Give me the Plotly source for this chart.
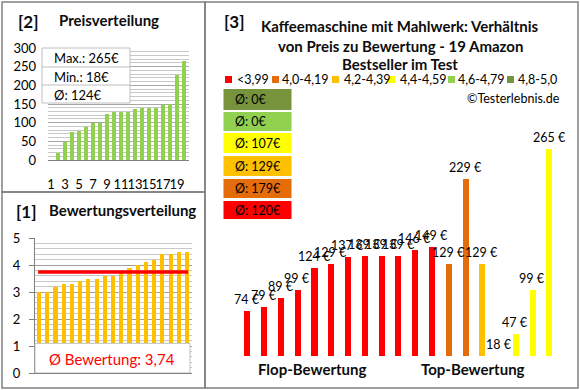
import plotly.graph_objects as go

# ---------------- data ----------------
price_sorted = [18, 47, 74, 79, 89, 99, 99, 124, 129, 129, 129, 137, 139, 139, 139, 146, 149, 229, 265]
ratings_sorted = [3.0, 3.0, 3.2, 3.3, 3.3, 3.4, 3.5, 3.5, 3.6, 3.6, 3.7, 3.9, 4.0, 4.1, 4.2, 4.4, 4.4, 4.5, 4.5]
price_tick_labels = ["1", "3", "5", "7", "9", "11", "13", "15", "17", "19"]

panel3_prices = [74, 79, 89, 99, 124, 129, 137, 139, 139, 139, 146, 149, 129, 229, 129, 18, 47, 99, 265]
panel3_groups = [0, 0, 0, 0, 0, 0, 0, 0, 0, 0, 0, 0, 1, 1, 2, 3, 3, 3, 3]
group_labels = ["<3,99", "4,0-4,19", "4,2-4,39", "4,4-4,59", "4,6-4,79", "4,8-5,0"]
group_colors = ["#FF0000", "#E46C0A", "#FFC000", "#FFFF00", "#92D050", "#77933C"]

title_lines = ["Kaffeemaschine mit Mahlwerk: Verhältnis",
               "von Preis zu Bewertung - 19 Amazon",
               "Bestseller im Test"]

# ---------------- helpers ----------------
W, H = 580, 390
FONT = "Lato"


def fx(px):
    return px / W


def fy(py):
    return 1 - py / H


fig = go.Figure()

# Panel [2] price distribution
n = len(price_sorted)
fig.add_trace(go.Bar(x=list(range(1, n + 1)), y=price_sorted, marker_color="#92D050",
                     marker_line_width=0, width=0.5, xaxis="x", yaxis="y"))
# Panel [1] rating distribution
fig.add_trace(go.Bar(x=list(range(1, n + 1)), y=ratings_sorted, marker_color="#FFC000",
                     marker_line_width=0, width=0.5, xaxis="x2", yaxis="y2"))
# Panel [3] price vs rating
x3 = list(range(1, len(panel3_prices) + 1))
fig.add_trace(go.Bar(x=x3, y=panel3_prices,
                     marker_color=[group_colors[g] for g in panel3_groups],
                     marker_line_width=0, width=0.36, xaxis="x3", yaxis="y3"))

Y3MIN, Y3MAX = 21.3, 300

tickfont = dict(family=FONT, size=13, color="#000000")

fig.update_layout(
    template="none",
    font=dict(family=FONT, size=12, color="#000000"),
    width=W, height=H, autosize=False,
    margin=dict(l=0, r=0, t=0, b=0, pad=0, autoexpand=False),
    paper_bgcolor="white", plot_bgcolor="white", showlegend=False,
    bargap=0,
    xaxis=dict(domain=[fx(48), fx(189)], range=[-0.43, 19.71], automargin=False, anchor="y",
               tickmode="array", tickvals=[int(t) - 1 for t in price_tick_labels],
               ticktext=price_tick_labels, tickangle=0,
               ticks="", ticklabelstandoff=12,
               tickfont=tickfont, showgrid=False, zeroline=False,
               showline=True, linecolor="#808080", linewidth=1),
    yaxis=dict(domain=[fy(160), fy(48)], range=[0, 300], dtick=50, automargin=False, anchor="x",
               side="left", ticklabelposition="outside",
               ticks="", ticklabelstandoff=11,
               tickfont=tickfont, showgrid=True, gridcolor="#A6A6A6", gridwidth=1,
               minor=dict(dtick=10, showgrid=True, gridcolor="#C8C8C8", gridwidth=1),
               zeroline=False, showline=False),
    xaxis2=dict(domain=[fx(35), fx(192)], range=[0.51, 19.6], showticklabels=False,
                automargin=False, ticks="", anchor="y2",
                showgrid=False, zeroline=False, showline=True, linecolor="#808080"),
    yaxis2=dict(domain=[fy(373), fy(238)], range=[0, 5], dtick=1, automargin=False, anchor="x2",
                side="left", ticklabelposition="outside",
                ticks="outside", ticklen=5, tickcolor="#808080", ticklabelstandoff=6,
                tickfont=tickfont, showgrid=True, gridcolor="#A0A0A0", gridwidth=1,
                minor=dict(dtick=0.2, showgrid=True, gridcolor="#C8C8C8", gridwidth=1),
                zeroline=False, showline=True, linecolor="#808080"),
    xaxis3=dict(domain=[fx(238.6), fx(557.4)], range=[0.5, 19.5], visible=False,
                automargin=False, anchor="y3"),
    yaxis3=dict(domain=[fy(356), fy(119.4)], range=[Y3MIN, Y3MAX], visible=False,
                automargin=False, anchor="x3"),
)

shapes = []
annotations = []
BORDER = "#808080"
# panel borders
for (x0, y0, x1, y1) in [(2, 2, 205, 192), (2, 192, 205, 388), (205, 2, 578, 388)]:
    shapes.append(dict(type="rect", xref="paper", yref="paper",
                       x0=fx(x0), x1=fx(x1), y0=fy(y1), y1=fy(y0),
                       line=dict(color=BORDER, width=1.5), fillcolor="rgba(0,0,0,0)",
                       layer="above"))

# headings
DARK = "#0D0D0D"
head = dict(family=FONT, size=15, color=DARK)
bracket = dict(family=FONT, size=17, color=DARK)
annotations += [
    dict(text="<b>[2]</b>", x=fx(16), y=fy(21), xanchor="left", font=bracket),
    dict(text="<b>Preisverteilung</b>", x=fx(57), y=fy(20), xanchor="left", font=head),
    dict(text="<b>[1]</b>", x=fx(14), y=fy(211), xanchor="left", font=bracket),
    dict(text="<b>Bewertungsverteilung</b>", x=fx(47), y=fy(210), xanchor="left", font=head),
    dict(text="<b>[3]</b>", x=fx(222), y=fy(21), xanchor="left", font=bracket),
]

# panel 2 info box
shapes.append(dict(type="rect", xref="paper", yref="paper", x0=fx(42), x1=fx(130),
                   y0=fy(103), y1=fy(48), line=dict(color="#BFBFBF", width=1),
                   fillcolor="white", layer="above"))
for yy in (67, 85):
    shapes.append(dict(type="line", xref="paper", yref="paper", x0=fx(42), x1=fx(130),
                       y0=fy(yy), y1=fy(yy), line=dict(color="#BFBFBF", width=1), layer="above"))
avg_price = sum(price_sorted) / len(price_sorted)
info = [f"Max.: {max(price_sorted)}€", f"Min.: {min(price_sorted)}€", f"Ø: {round(avg_price)}€"]
for txt, yy in zip(info, (58, 77, 95)):
    annotations.append(dict(text=txt, x=fx(52), y=fy(yy), xanchor="left",
                            font=dict(family=FONT, size=13, color="#000000")))

# panel 1: average line + bottom box
avg_rating = sum(ratings_sorted) / len(ratings_sorted)
shapes.append(dict(type="line", xref="x2 domain", yref="y2", x0=0.02, x1=0.975,
                   y0=avg_rating, y1=avg_rating, line=dict(color="#FF0000", width=3.5), layer="above"))
shapes.append(dict(type="rect", xref="paper", yref="y2", x0=fx(35), x1=fx(190), y0=0, y1=1.1,
                   line=dict(color="#BFBFBF", width=1), fillcolor="white", layer="above"))
annotations.append(dict(text="Ø Bewertung: " + f"{avg_rating:.2f}".replace(".", ","),
                        x=fx(112), y=fy(359), font=dict(family=FONT, size=15, color="#FF0000")))

# panel 3 title
for line, yy in zip(title_lines, (26, 46, 64)):
    annotations.append(dict(text=f"<b>{line}</b>", x=fx(400), y=fy(yy),
                            font=dict(family=FONT, size=15, color=DARK)))

# legend
leg_sq_x = [225, 272, 332, 388, 448, 507]
leg_tx_x = [235, 280, 342, 398, 456, 516]
for lab, col, sx, tx in zip(group_labels, group_colors, leg_sq_x, leg_tx_x):
    shapes.append(dict(type="rect", xref="paper", yref="paper", x0=fx(sx), x1=fx(sx + 7),
                       y0=fy(83), y1=fy(76), fillcolor=col, line=dict(width=0)))
    annotations.append(dict(text=lab.replace("<", "&lt;"), x=fx(tx), y=fy(79.5), xanchor="left",
                            font=dict(family=FONT, size=12.5, color="#000000")))

annotations.append(dict(text="©Testerlebnis.de", x=fx(562), y=fy(98), xanchor="right",
                        font=dict(family=FONT, size=12.5, color="#000000")))

# group average boxes (top: best group)
box_rows = [(89, 110), (112, 131), (133, 153), (156, 176), (179, 198), (201, 219)]
for gi, (y0, y1) in zip([5, 4, 3, 2, 1, 0], box_rows):
    vals = [p for p, g in zip(panel3_prices, panel3_groups) if g == gi]
    avg = round(sum(vals) / len(vals)) if vals else 0
    shapes.append(dict(type="rect", xref="paper", yref="paper", x0=fx(223.5), x1=fx(291.5),
                       y0=fy(y1), y1=fy(y0), fillcolor=group_colors[gi], line=dict(width=0)))
    annotations.append(dict(text=f"Ø: {avg}€", x=fx(233), y=fy((y0 + y1) / 2), xanchor="left",
                            font=dict(family=FONT, size=12.5, color="#000000")))

# bar labels panel 3
for xi, p in zip(x3, panel3_prices):
    annotations.append(dict(text=f"{p} €", x=xi, y=max(p, Y3MIN), xref="x3", yref="y3",
                            yshift=12, font=dict(family=FONT, size=12.5, color="#000000")))

annotations += [
    dict(text="<b>Flop-Bewertung</b>", x=fx(312), y=fy(369), font=dict(family=FONT, size=15, color=DARK)),
    dict(text="<b>Top-Bewertung</b>", x=fx(473), y=fy(369), font=dict(family=FONT, size=15, color=DARK)),
]

for a in annotations:
    a.setdefault("xref", "paper")
    a.setdefault("yref", "paper")
    a.setdefault("showarrow", False)
    a.setdefault("xanchor", "center")
    a.setdefault("yanchor", "middle")

fig.update_layout(shapes=shapes, annotations=annotations)
fig.write_html("out.html", config={"displayModeBar": False},
               post_script="document.body.style.margin='0';document.body.style.overflow='hidden';")
